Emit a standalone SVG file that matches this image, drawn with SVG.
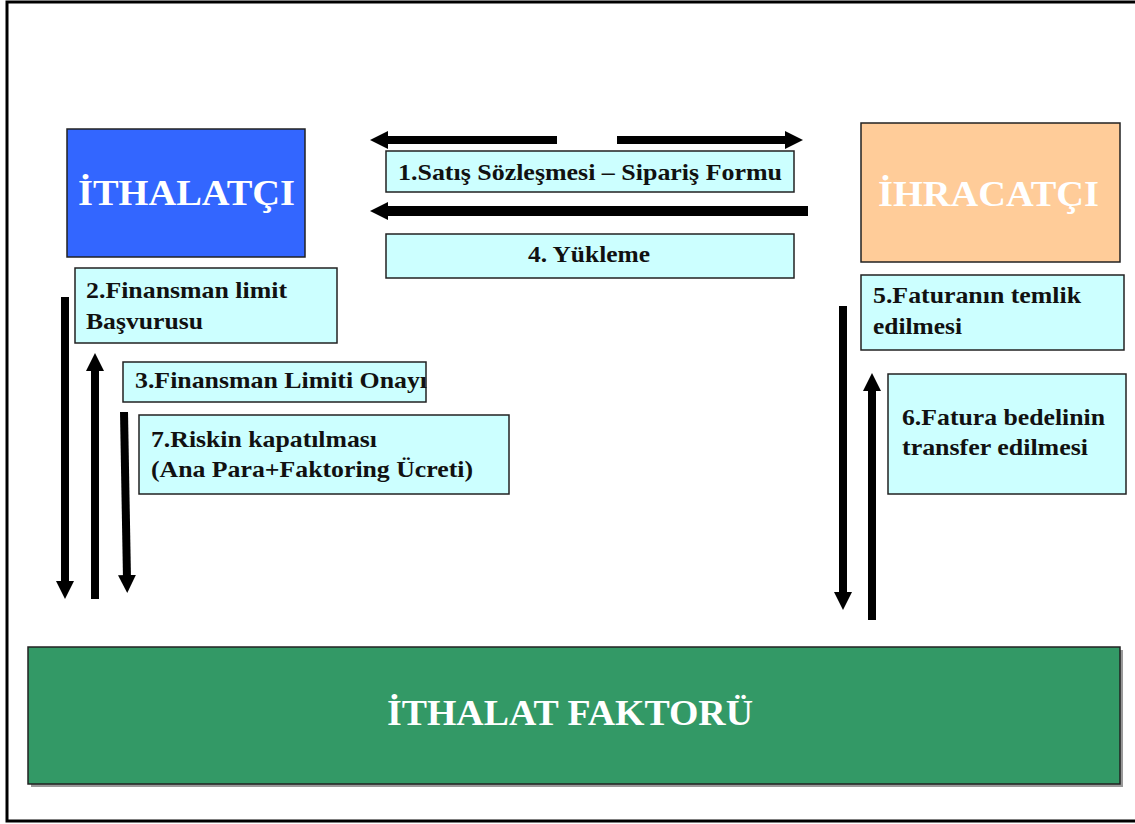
<svg xmlns="http://www.w3.org/2000/svg" width="1135" height="824" viewBox="0 0 1135 824">
<defs>
<style>
.frame{fill:none;stroke:#000;stroke-width:3}
.box{stroke:#222;stroke-width:1.5}
.lbl{fill:#ccffff}
.t{font-family:"Liberation Serif","Times New Roman",serif;font-weight:bold;font-size:24px;fill:#111}
.big{font-family:"Liberation Serif","Times New Roman",serif;font-weight:bold;font-size:36px;fill:#fff}
.arr{fill:none;stroke:#000;stroke-width:8;marker-end:url(#head)}
</style>
<marker id="head" markerUnits="userSpaceOnUse" markerWidth="18" markerHeight="18" viewBox="0 0 18 18" refX="4" refY="9" orient="auto">
<path d="M0,0 L18,9 L0,18 z" fill="#000"/>
</marker>
</defs>
<rect x="0" y="0" width="1135" height="824" fill="#fff"/>
<rect class="frame" x="7" y="2" width="1135" height="819"/>

<g id="ithalatci">
<rect class="box" x="67" y="129" width="238" height="128" fill="#3366ff"/>
<text class="big" x="78" y="205" textLength="217" lengthAdjust="spacingAndGlyphs">İTHALATÇI</text>
</g>
<g id="ihracatci">
<rect class="box" x="861" y="123" width="259" height="139" fill="#ffcc99"/>
<text class="big" x="878" y="206" textLength="221" lengthAdjust="spacingAndGlyphs">İHRACATÇI</text>
</g>
<g id="ithalat-faktoru">
<rect x="31" y="650" width="1092" height="137" fill="#999"/>
<rect class="box" x="28" y="647" width="1092" height="137" fill="#339966"/>
<text class="big" x="387" y="725" textLength="366" lengthAdjust="spacingAndGlyphs">İTHALAT FAKTORÜ</text>
</g>

<g id="step1">
<rect class="box lbl" x="386" y="151" width="408" height="41"/>
<text class="t" x="398" y="180" textLength="384" lengthAdjust="spacingAndGlyphs">1.Satış Sözleşmesi – Sipariş Formu</text>
</g>
<g id="step4">
<rect class="box lbl" x="386" y="234" width="408" height="44"/>
<text class="t" x="528" y="262" textLength="122" lengthAdjust="spacingAndGlyphs">4. Yükleme</text>
</g>
<g id="step2">
<rect class="box lbl" x="75" y="268" width="262" height="75"/>
<text class="t" x="86" y="298" textLength="201" lengthAdjust="spacingAndGlyphs">2.Finansman limit</text>
<text class="t" x="86" y="329" textLength="117" lengthAdjust="spacingAndGlyphs">Başvurusu</text>
</g>
<g id="step3">
<rect class="box lbl" x="123" y="362" width="303" height="40"/>
<text class="t" x="135" y="388" textLength="292" lengthAdjust="spacingAndGlyphs">3.Finansman Limiti Onayı</text>
</g>
<g id="step7">
<rect class="box lbl" x="139" y="415" width="370" height="79"/>
<text class="t" x="151" y="447" textLength="226" lengthAdjust="spacingAndGlyphs">7.Riskin kapatılması</text>
<text class="t" x="151" y="477" textLength="322" lengthAdjust="spacingAndGlyphs">(Ana Para+Faktoring Ücreti)</text>
</g>
<g id="step5">
<rect class="box lbl" x="861" y="275" width="263" height="75"/>
<text class="t" x="873" y="303" textLength="208" lengthAdjust="spacingAndGlyphs">5.Faturanın temlik</text>
<text class="t" x="873" y="334" textLength="89" lengthAdjust="spacingAndGlyphs">edilmesi</text>
</g>
<g id="step6">
<rect class="box lbl" x="888" y="374" width="238" height="120"/>
<text class="t" x="902" y="425" textLength="203" lengthAdjust="spacingAndGlyphs">6.Fatura bedelinin</text>
<text class="t" x="902" y="455" textLength="186" lengthAdjust="spacingAndGlyphs">transfer edilmesi</text>
</g>

<g id="connectors">
<path class="arr" d="M557,140 L384,140"/>
<path class="arr" d="M617,140 L789,140"/>
<path class="arr" style="stroke-width:10" d="M808,211 L384,211"/>
<path class="arr" d="M65,297 L65,585"/>
<path class="arr" d="M95,599 L95,367"/>
<path class="arr" d="M124,412 L127,579"/>
<path class="arr" d="M843,306 L843,596"/>
<path class="arr" d="M872,620 L872,387"/>
</g>
</svg>
